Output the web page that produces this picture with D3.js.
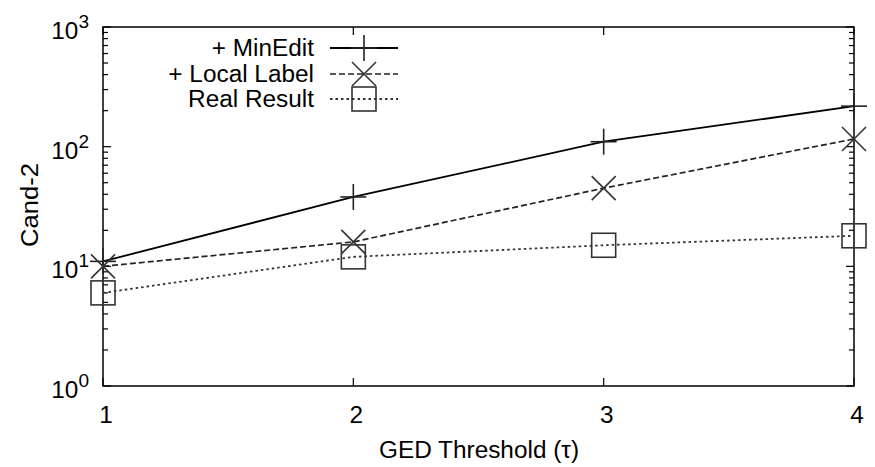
<!DOCTYPE html>
<html><head><meta charset="utf-8">
<script src="https://cdn.jsdelivr.net/npm/d3@7"></script>
<style>body{margin:0;background:#fff}svg{display:block}text{font-family:"Liberation Sans",Arial,sans-serif;fill:#000}</style>
</head><body><svg id="c" width="875" height="467"></svg>
<script>
const categories = [1, 2, 3, 4];
const minEdit = [11, 38, 110, 218];
const localLabel = [10, 16, 45, 116];
const realResult = [6, 12, 15, 18];
const yTickExps = [0, 1, 2, 3];
const seriesNames = ["+ MinEdit", "+ Local Label", "Real Result"];

const svg = d3.select("#c");
const L = 103, R = 854, T = 27, B = 386;
const SX = 1.06;
const FS = 23;
const x = d3.scaleLinear().domain([1, 4]).range([L, R]);
const y = d3.scaleLog().domain([1, 1000]).range([B, T]);

function txt(px, py, anchor, size, build, rot) {
  const g = svg.append("g").attr("transform", `translate(${px},${py})` + (rot ? ` rotate(${rot})` : "") + ` scale(${SX},1)`);
  const t = g.append("text").attr("text-anchor", anchor).style("font-size", size + "px");
  build(t);
  return t;
}

// minor/major y ticks (left and right, inward)
const ticks = [];
for (let e = 0; e < 3; e++) for (let m = 1; m < 10; m++) ticks.push({v: m * Math.pow(10, e), major: m === 1});
ticks.push({v: 1000, major: true});
ticks.forEach(tk => {
  const len = tk.major ? 8 : 5;
  const yy = y(tk.v);
  svg.append("line").attr("x1", L).attr("x2", L + len).attr("y1", yy).attr("y2", yy).attr("stroke", "#000").attr("stroke-width", 1.2);
  svg.append("line").attr("x1", R).attr("x2", R - len).attr("y1", yy).attr("y2", yy).attr("stroke", "#000").attr("stroke-width", 1.2);
});
// x ticks
categories.forEach(c => {
  svg.append("line").attr("x1", x(c)).attr("x2", x(c)).attr("y1", B).attr("y2", B - 8).attr("stroke", "#000").attr("stroke-width", 1.2);
  svg.append("line").attr("x1", x(c)).attr("x2", x(c)).attr("y1", T).attr("y2", T + 8).attr("stroke", "#000").attr("stroke-width", 1.2);
  txt(x(c) + 3, B + 37, "middle", FS, t => t.text(c));
});
// y labels
yTickExps.forEach(e => {
  txt(89, y(Math.pow(10, e)) + 12, "end", FS, t => {
    t.append("tspan").text("10");
    t.append("tspan").attr("dy", -11).style("font-size", "18px").text(e);
  });
});
// frame
svg.append("rect").attr("x", L).attr("y", T).attr("width", R - L).attr("height", B - T)
  .attr("fill", "none").attr("stroke", "#000").attr("stroke-width", 1.5);

// axis titles
txt(479, 458, "middle", FS, t => t.text("GED Threshold (τ)"));
svg.append("text").attr("transform", "translate(38,205) rotate(-90)").attr("text-anchor", "middle")
  .style("font-size", FS + "px").text("Cand-2").attr("textLength", 84).attr("lengthAdjust", "spacingAndGlyphs");

const series = [
  {name: seriesNames[0], data: minEdit, dash: null, color: "#000", width: 1.8, marker: "plus"},
  {name: seriesNames[1], data: localLabel, dash: "6,3", color: "#222", width: 1.7, marker: "cross"},
  {name: seriesNames[2], data: realResult, dash: "2.5,3", color: "#333", width: 1.8, marker: "square"}
];

function marker(g, type, cx, cy) {
  const s = "#222", w = 1.6;
  if (type === "plus") {
    g.append("line").attr("x1", cx - 13).attr("x2", cx + 13).attr("y1", cy).attr("y2", cy).attr("stroke", s).attr("stroke-width", w);
    g.append("line").attr("x1", cx).attr("x2", cx).attr("y1", cy - 13).attr("y2", cy + 13).attr("stroke", s).attr("stroke-width", w);
  } else if (type === "cross") {
    const h = 12;
    g.append("line").attr("x1", cx - h).attr("x2", cx + h).attr("y1", cy - h).attr("y2", cy + h).attr("stroke", "#333").attr("stroke-width", w);
    g.append("line").attr("x1", cx - h).attr("x2", cx + h).attr("y1", cy + h).attr("y2", cy - h).attr("stroke", "#333").attr("stroke-width", w);
  } else {
    g.append("rect").attr("x", cx - 12).attr("y", cy - 12).attr("width", 24).attr("height", 24)
      .attr("fill", "none").attr("stroke", "#333").attr("stroke-width", w);
  }
}

const line = d3.line().x((d, i) => x(categories[i])).y(d => y(d));
const legendY = [48, 74, 99];
series.forEach((s, si) => {
  const g = svg.append("g");
  g.append("path").attr("d", line(s.data)).attr("fill", "none").attr("stroke", s.color)
    .attr("stroke-width", s.width).attr("stroke-dasharray", s.dash);
  s.data.forEach((d, i) => marker(g, s.marker, x(categories[i]), y(d)));
  // legend
  const ly = legendY[si];
  g.append("line").attr("x1", 330).attr("x2", 398).attr("y1", ly).attr("y2", ly).attr("stroke", s.color)
    .attr("stroke-width", s.width).attr("stroke-dasharray", s.dash);
  marker(g, s.marker, 364, ly);
  txt(314, ly + 8, "end", FS, t => t.text(s.name));
});
</script></body></html>
